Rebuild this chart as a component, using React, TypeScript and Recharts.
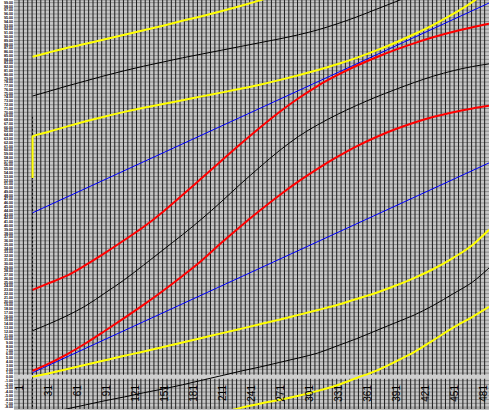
import { LineChart, Line, XAxis, YAxis, CartesianGrid, ReferenceLine } from 'recharts';

// category positions where the curves were sampled
const CATS = [15, 30, 50, 70, 90, 110, 130, 150, 170, 190, 210, 230, 250, 270, 290, 310, 330, 350, 370, 390, 410, 430, 450, 470, 487];

const YELLOW_1 = [84.7, 85.7, 87.0, 88.1, 89.3, 90.5, 91.7, 92.9, 94.2, 95.4, 96.7, 98.1, 99.6, 101.1, 102.6, null, null, null, null, null, null, null, null, null, null];
const BLACK_1 = [74.3, 75.4, 76.9, 78.3, 79.7, 81.0, 82.2, 83.3, 84.4, 85.4, 86.4, 87.4, 88.4, 89.4, 90.5, 91.8, 93.4, 95.2, 97.2, 99.2, 101.2, 103.0, null, null, null];
const YELLOW_2_START = 52.6;
const YELLOW_2 = [63.6, 64.7, 66.2, 67.6, 68.9, 70.1, 71.2, 72.2, 73.2, 74.2, 75.2, 76.2, 77.3, 78.5, 79.8, 81.2, 82.7, 84.4, 86.3, 88.4, 90.7, 93.2, 96.0, 99.2, 102.4];
const RED_1 = [23.0, 24.6, 26.7, 29.6, 32.8, 36.2, 39.7, 43.7, 48.1, 52.6, 57.1, 61.6, 65.9, 70.0, 73.7, 77.0, 79.8, 82.3, 84.5, 86.5, 88.3, 89.9, 91.3, 92.5, 93.4];
const BLACK_2 = [12.2, 13.8, 16.1, 18.8, 22.2, 25.7, 29.6, 33.6, 37.6, 41.8, 46.3, 51.0, 55.5, 59.8, 63.6, 66.7, 69.4, 71.8, 74.0, 76.0, 77.9, 79.6, 81.0, 82.1, 82.8];
const RED_2 = [1.6, 3.3, 5.9, 8.9, 12.2, 15.6, 19.1, 22.8, 26.7, 30.8, 35.4, 39.8, 44.0, 48.0, 51.7, 55.1, 58.2, 61.0, 63.4, 65.5, 67.3, 68.8, 70.0, 71.0, 71.7];
const YELLOW_3 = [0.0, 0.8, 2.0, 3.2, 4.4, 5.6, 6.7, 7.9, 9.1, 10.3, 11.5, 12.7, 13.9, 15.1, 16.4, 17.7, 19.0, 20.6, 22.2, 24.1, 26.2, 28.6, 31.5, 34.9, 38.9];
const BLACK_3 = [null, -9.5, -8.5, -7.4, -6.3, -5.3, -4.2, -3.2, -2.1, -0.9, 0.3, 1.5, 2.6, 3.8, 5.0, 6.3, 8.2, 10.1, 12.2, 14.3, 16.4, 19.0, 22.0, 25.1, 28.8];
const YELLOW_4 = [null, null, null, null, null, null, null, null, null, null, -9.5, -8.2, -7.1, -6.1, -5.0, -3.7, -2.2, -0.3, 1.6, 4.0, 6.6, 9.8, 13.0, 15.9, 18.5];

// the two straight blue lines only need their end points
const BLUE_CATS = [15, 487];
const BLUE_1 = [43.4, 98.9];
const BLUE_2 = [1.1, 56.6];

// dotted marker at the start category
const MARKER_CATS = [15, 15];
const MARKER = [68.8, -8.7];

const X_LABELS = [1, 31, 61, 91, 121, 151, 181, 211, 241, 271, 301, 331, 361, 391, 421, 451, 481];
const X_GRID = Array.from({ length: 108 }, (_, i) => 1 + i * 4.5);
const Y_TICKS = Array.from({ length: 108 }, (_, i) => i - 8);

const X_DOMAIN: [number, number] = [-4.2, 487];
const Y_DOMAIN: [number, number] = [-8.5, 99.7];

type Pt = { x: number; y: number };

function toPoints(xs: number[], ys: (number | null)[]): Pt[] {
  const out: Pt[] = [];
  xs.forEach((x, i) => {
    const y = ys[i];
    if (y != null) out.push({ x, y });
  });
  return out;
}

const series = [
  { key: 'marker', data: toPoints(MARKER_CATS, MARKER), color: '#000000', width: 1, dash: '2 2' },
  { key: 'b1', data: toPoints(BLUE_CATS, BLUE_1), color: '#0000ff', width: 1 },
  { key: 'b2', data: toPoints(BLUE_CATS, BLUE_2), color: '#0000ff', width: 1 },
  { key: 'k1', data: toPoints(CATS, BLACK_1), color: '#000000', width: 1 },
  { key: 'k2', data: toPoints(CATS, BLACK_2), color: '#000000', width: 1 },
  { key: 'k3', data: toPoints(CATS, BLACK_3), color: '#000000', width: 1 },
  { key: 'r1', data: toPoints(CATS, RED_1), color: '#ff0000', width: 2 },
  { key: 'r2', data: toPoints(CATS, RED_2), color: '#ff0000', width: 2 },
  { key: 'y1', data: toPoints(CATS, YELLOW_1), color: '#ffff00', width: 2 },
  { key: 'y2', data: [{ x: CATS[0], y: YELLOW_2_START }, ...toPoints(CATS, YELLOW_2)], color: '#ffff00', width: 2 },
  { key: 'y3', data: toPoints(CATS, YELLOW_3), color: '#ffff00', width: 2 },
  { key: 'y4', data: toPoints(CATS, YELLOW_4), color: '#ffff00', width: 2 },
];

function XLabel(props: any) {
  const { x, y, payload } = props;
  return (
    <text
      transform={`translate(${x},${y - 24}) rotate(-90)`}
      textAnchor="end"
      dy="0.35em"
      fontSize={10}
      fontFamily="'Liberation Sans', Arial, sans-serif"
      fill="#000"
    >
      {payload.value}
    </text>
  );
}

export default function App() {
  return (
    <div style={{ position: 'absolute', left: 0, top: 0, width: 489, height: 410, background: '#fff' }}>
      <LineChart width={489} height={410} margin={{ top: 0, right: 0, bottom: 0, left: 0 }}>
        <CartesianGrid vertical={false} stroke="#8a8a8a" fill="#c6c6c6" fillOpacity={1} />
        {X_GRID.map((v) => (
          <ReferenceLine key={`g${v}`} x={v} stroke="#1e1e1e" strokeWidth={1} />
        ))}
        <ReferenceLine y={0} stroke="#cfcfcf" strokeWidth={4} />
        <XAxis
          dataKey="x"
          type="number"
          domain={X_DOMAIN}
          ticks={X_LABELS}
          interval={0}
          tick={<XLabel />}
          tickLine={false}
          axisLine={false}
          tickSize={0}
          tickMargin={0}
          height={1}
          allowDataOverflow
        />
        <YAxis
          type="number"
          domain={Y_DOMAIN}
          ticks={Y_TICKS}
          interval={0}
          width={14}
          tickLine={false}
          axisLine={false}
          tickSize={0}
          tickMargin={1}
          allowDataOverflow
          tick={{ fontSize: 3.6, fontWeight: 'bold', fill: '#000', fontFamily: "'Liberation Sans', Arial, sans-serif" }}
          tickFormatter={(v: number) => v.toFixed(2)}
        />
        {series.map((s) => (
          <Line
            key={s.key}
            data={s.data}
            dataKey="y"
            type="monotone"
            stroke={s.color}
            strokeWidth={s.width}
            strokeDasharray={s.dash}
            dot={false}
            activeDot={false}
            isAnimationActive={false}
          />
        ))}
      </LineChart>
    </div>
  );
}
